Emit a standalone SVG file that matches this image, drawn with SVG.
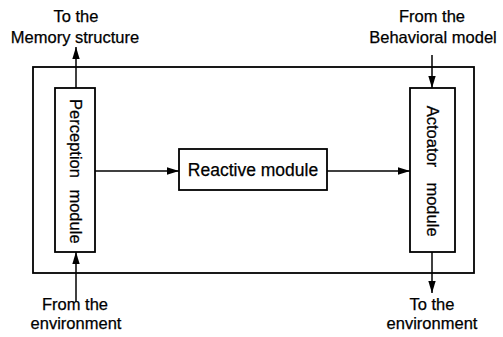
<svg xmlns="http://www.w3.org/2000/svg" width="503" height="337" viewBox="0 0 503 337">
  <style>
    .box { fill: #ffffff; stroke: #000000; stroke-width: 1.8; }
    .wire { fill: none; stroke: #000000; stroke-width: 1.5; }
    .lbl { font-family: "Liberation Sans", Arial, sans-serif; font-size: 16.5px; fill: #000000; stroke: #000000; stroke-width: 0.25; text-anchor: middle; }
  </style>
  <defs>
    <marker id="head" viewBox="0 0 12 10" refX="12" refY="5" markerWidth="12" markerHeight="10" markerUnits="userSpaceOnUse" orient="auto">
      <path d="M0,1.3 L12,5 L0,8.7 Z" fill="#000000"/>
    </marker>
  </defs>
  <rect width="503" height="337" fill="#ffffff"/>

  <!-- system boundary -->
  <g id="system">
    <rect class="box" x="33" y="67" width="441" height="206"/>
  </g>

  <!-- external labels -->
  <g id="memory-label">
    <text class="lbl" x="76" y="22">To the</text>
    <text class="lbl" x="75" y="43">Memory structure</text>
  </g>
  <g id="behavioral-label">
    <text class="lbl" x="432" y="22">From the</text>
    <text class="lbl" x="433" y="43">Behavioral model</text>
  </g>
  <g id="env-in-label">
    <text class="lbl" x="75" y="310">From the</text>
    <text class="lbl" x="76" y="329">environment</text>
  </g>
  <g id="env-out-label">
    <text class="lbl" x="432" y="310">To the</text>
    <text class="lbl" x="432" y="329">environment</text>
  </g>

  <!-- connectors -->
  <g id="connectors">
    <line class="wire" x1="76" y1="88" x2="76" y2="47" marker-end="url(#head)"/>
    <line class="wire" x1="432" y1="55" x2="432" y2="88" marker-end="url(#head)"/>
    <line class="wire" x1="76" y1="302" x2="76" y2="252" marker-end="url(#head)"/>
    <line class="wire" x1="432" y1="252" x2="432" y2="293" marker-end="url(#head)"/>
    <line class="wire" x1="95" y1="171" x2="179" y2="171" marker-end="url(#head)"/>
    <line class="wire" x1="327" y1="171" x2="410" y2="171" marker-end="url(#head)"/>
  </g>

  <!-- perception module -->
  <g id="perception">
    <rect class="box" x="55" y="88" width="40" height="164"/>
    <text class="lbl" transform="translate(70,138.5) rotate(90)">Perception</text>
    <text class="lbl" transform="translate(70,216.5) rotate(90)">module</text>
  </g>

  <!-- reactive module -->
  <g id="reactive">
    <rect class="box" x="179" y="149" width="148" height="41"/>
    <text class="lbl" x="253" y="176" style="font-size:17.5px">Reactive module</text>
  </g>

  <!-- actuator module -->
  <g id="actuator">
    <rect class="box" x="410" y="88" width="45" height="164"/>
    <text class="lbl" transform="translate(427,136.5) rotate(90)">Actoator</text>
    <text class="lbl" transform="translate(427,209.5) rotate(90)">module</text>
  </g>
</svg>
